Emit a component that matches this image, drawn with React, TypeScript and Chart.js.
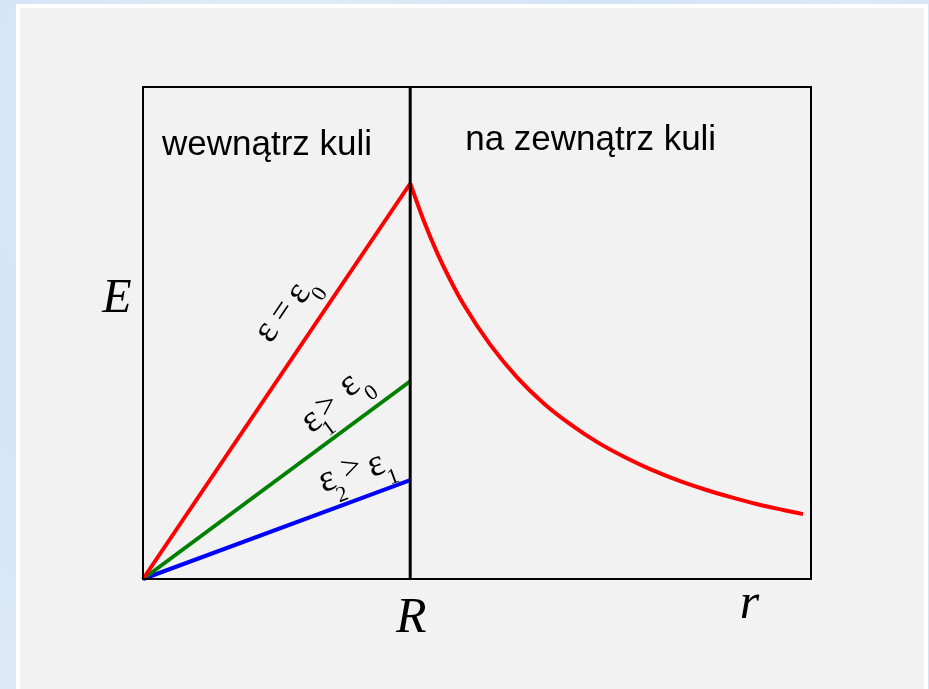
import { useEffect, useRef } from "react";
import { Chart, registerables } from "chart.js";

Chart.register(...registerables);

const WIDTH = 929;
const HEIGHT = 689;

// Radius in units of the sphere radius R, field in units of E(R) for ε = ε0
const innerR = [0, 1];
const fieldVacuum = [0, 1];
const fieldEps1 = [0, 0.5];
const fieldEps2 = [0, 0.25];
const outerR = [1, 1.05, 1.1, 1.15, 1.2, 1.3, 1.4, 1.5, 1.6, 1.7, 1.8, 1.9, 2.0, 2.1, 2.2, 2.3, 2.4, 2.47];
const outerE = [1, 0.907, 0.826, 0.756, 0.694, 0.592, 0.51, 0.444, 0.391, 0.346, 0.309, 0.277, 0.25, 0.227, 0.207, 0.189, 0.174, 0.164];

const regionLabels = ["wewnątrz kuli", "na zewnątrz kuli"];
const axisLabels = { e: "E", radius: "R", r: "r" };

const lineColors = ["#ff0000", "#008000", "#0000ff"];

type Piece = { s: string; a: number; b: number; size: number };
type EpsLabel = { dataset: number; t: number; offset: number; pieces: Piece[] };

// Permittivity labels written along each line inside the sphere
const epsLabels: EpsLabel[] = [
  {
    dataset: 0,
    t: 0.574,
    offset: -34,
    pieces: [
      { s: "ε", a: 0, b: 8.5, size: 38 },
      { s: "=", a: 26, b: 9, size: 34 },
      { s: "ε", a: 50, b: 13, size: 38 },
      { s: "0", a: 61, b: 27, size: 22 },
    ],
  },
  {
    dataset: 1,
    t: 0.69,
    offset: -25,
    pieces: [
      { s: "ε", a: 0, b: 8.5, size: 38 },
      { s: "1", a: 10, b: 21, size: 22 },
      { s: ">", a: 22, b: 4.5, size: 34 },
      { s: "ε", a: 52, b: 2, size: 38 },
      { s: "0", a: 65, b: 17.5, size: 22 },
    ],
  },
  {
    dataset: 2,
    t: 0.727,
    offset: -27,
    pieces: [
      { s: "ε", a: 0, b: 8.5, size: 38 },
      { s: "2", a: 9, b: 23.5, size: 22 },
      { s: ">", a: 27, b: 4.5, size: 34 },
      { s: "ε", a: 51, b: 11, size: 38 },
      { s: "1", a: 63, b: 24.5, size: 22 },
    ],
  },
];

const decorations = {
  id: "decorations",
  afterDatasetsDraw(chart: Chart) {
    const { ctx, chartArea } = chart;
    const xs = chart.scales.x;
    const { left, right, top, bottom } = chartArea;
    ctx.save();

    // Frame
    ctx.strokeStyle = "#000";
    ctx.lineWidth = 2;
    ctx.strokeRect(left, top, right - left, bottom - top);

    // Sphere surface at r = R
    const xR = xs.getPixelForValue(1);
    ctx.lineWidth = 3;
    ctx.beginPath();
    ctx.moveTo(xR, top);
    ctx.lineTo(xR, bottom);
    ctx.stroke();

    // Region captions
    ctx.fillStyle = "#000";
    ctx.font = '35px "Liberation Sans", Arial, sans-serif';
    ctx.textAlign = "left";
    ctx.textBaseline = "alphabetic";
    ctx.fillText(regionLabels[0], left + 19, top + 68);
    ctx.fillText(regionLabels[1], xR + 55, top + 63);

    // Axis symbols
    ctx.textAlign = "center";
    ctx.font = 'italic 48px "Liberation Serif", "Times New Roman", serif';
    ctx.fillText(axisLabels.e, left - 26, 312);
    ctx.font = 'italic 50px "Liberation Serif", "Times New Roman", serif';
    ctx.fillText(axisLabels.radius, xR + 1, bottom + 53);
    ctx.fillText(axisLabels.r, xs.getPixelForValue(2.27), bottom + 39);

    // ε labels along the inner lines
    for (const lab of epsLabels) {
      const meta = chart.getDatasetMeta(lab.dataset);
      const p0 = meta.data[0] as any;
      const p1 = meta.data[1] as any;
      const ax = p0.x + lab.t * (p1.x - p0.x);
      const ay = p0.y + lab.t * (p1.y - p0.y);
      const ang = Math.atan2(p1.y - p0.y, p1.x - p0.x);
      ctx.save();
      ctx.translate(ax, ay);
      ctx.rotate(ang);
      ctx.translate(0, lab.offset);
      for (const p of lab.pieces) {
        ctx.font = `${p.size}px "Liberation Serif", "Times New Roman", serif`;
        ctx.fillText(p.s, p.a, p.b);
      }
      ctx.restore();
    }
    ctx.restore();
  },
};

export default function App() {
  const canvasRef = useRef<HTMLCanvasElement>(null);

  useEffect(() => {
    document.body.style.margin = "0";
    const canvas = canvasRef.current!;
    const pts = (xs: number[], ys: number[]) => xs.map((x, i) => ({ x, y: ys[i] }));
    const chart = new Chart(canvas, {
      type: "line",
      data: {
        datasets: [
          { data: pts(innerR, fieldVacuum), borderColor: lineColors[0], borderWidth: 4 },
          { data: pts(innerR, fieldEps1), borderColor: lineColors[1], borderWidth: 4 },
          { data: pts(innerR, fieldEps2), borderColor: lineColors[2], borderWidth: 4 },
          {
            data: pts(outerR, outerE),
            borderColor: lineColors[0],
            borderWidth: 4,
            cubicInterpolationMode: "monotone",
          },
        ].map((d) => ({ ...d, pointRadius: 0, fill: false, clip: false as any, borderCapStyle: "butt" as const })),
      },
      options: {
        animation: false,
        responsive: false,
        devicePixelRatio: 1,
        layout: { padding: { left: 143, right: WIDTH - 811, top: 87, bottom: HEIGHT - 579 } },
        plugins: { legend: { display: false }, tooltip: { enabled: false }, title: { display: false } },
        events: [],
        scales: {
          x: { type: "linear", min: 0, max: 2.5, display: false },
          y: { type: "linear", min: 0, max: 1.244, display: false },
        },
      },
      plugins: [decorations],
    });
    return () => chart.destroy();
  }, []);

  return (
    <div
      style={{
        position: "relative",
        width: WIDTH,
        height: HEIGHT,
        overflow: "hidden",
        background:
          "radial-gradient(circle at 30% 20%, #e4effa 0%, #d3e4f5 40%, #dbe9f8 70%, #cfe1f3 100%)",
      }}
    >
      <div style={{ position: "absolute", left: 16, top: 4, width: 912, height: HEIGHT, background: "#ffffff" }} />
      <div style={{ position: "absolute", left: 20, top: 8, width: 904, height: HEIGHT, background: "#f2f2f2" }} />
      <canvas
        ref={canvasRef}
        width={WIDTH}
        height={HEIGHT}
        style={{ position: "absolute", left: 0, top: 0, width: WIDTH, height: HEIGHT }}
      />
    </div>
  );
}
